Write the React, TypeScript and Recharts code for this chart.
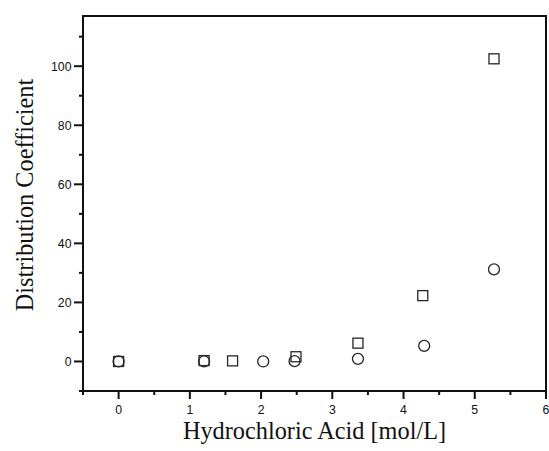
import React from "react";
import { ScatterChart, Scatter, XAxis, YAxis, ReferenceArea, Label } from "recharts";

const squareX = [0, 1.2, 1.6, 2.49, 3.36, 4.27, 5.27];
const squareY = [0, 0.3, 0.2, 1.6, 6.2, 22.3, 102.5];
const circleX = [0, 1.2, 2.03, 2.47, 3.36, 4.29, 5.27];
const circleY = [0, 0, 0, 0.1, 0.9, 5.3, 31.2];

const xMajorTicks = [0, 1, 2, 3, 4, 5, 6];
const xMinorTicks = [-0.5, 0.5, 1.5, 2.5, 3.5, 4.5, 5.5];
const yMajorTicks = [0, 20, 40, 60, 80, 100];
const yMinorTicks = [-10, 10, 30, 50, 70, 90, 110];

const xDomain = [-0.5, 6];
const yDomain = [-10, 117];

const squareData = squareX.map((x, i) => ({ x, y: squareY[i] }));
const circleData = circleX.map((x, i) => ({ x, y: circleY[i] }));

const xTicks = [...xMinorTicks, ...xMajorTicks].sort((a, b) => a - b);
const yTicks = [...yMinorTicks, ...yMajorTicks].sort((a, b) => a - b);

const SANS = "'Liberation Sans', Arial, sans-serif";
const SERIF = "'Liberation Serif', 'Times New Roman', serif";
const INK = "#111";

const XTick = (props: any) => {
  const { x, y, payload } = props;
  const major = xMajorTicks.includes(payload.value);
  return (
    <g>
      <line x1={x} x2={x} y1={y} y2={y + (major ? 8 : 4)} stroke={INK} strokeWidth={2} />
      {major && (
        <text x={x} y={y + 23.3} textAnchor="middle" fontFamily={SANS} fontSize={12.3} fill={INK}>
          {payload.value}
        </text>
      )}
    </g>
  );
};

const YTick = (props: any) => {
  const { x, y, payload } = props;
  const major = yMajorTicks.includes(payload.value);
  return (
    <g>
      <line x1={x - (major ? 9 : 4)} x2={x} y1={y} y2={y} stroke={INK} strokeWidth={2} />
      {major && (
        <text x={x - 11.5} y={y + 4.4} textAnchor="end" fontFamily={SANS} fontSize={12.3} fill={INK}>
          {payload.value}
        </text>
      )}
    </g>
  );
};

const SquareShape = (props: any) => {
  const { cx, cy } = props;
  return <rect x={cx - 5} y={cy - 5} width={10} height={10} fill="none" stroke="#262626" strokeWidth={1.3} />;
};

const CircleShape = (props: any) => {
  const { cx, cy } = props;
  return <circle cx={cx} cy={cy} r={5.5} fill="none" stroke="#262626" strokeWidth={1.3} />;
};

const YTitle = (props: any) => {
  const vb = props.viewBox;
  const x = vb.x + 33;
  const y = vb.y + vb.height / 2 - 8.5;
  return (
    <text x={x} y={y} transform={`rotate(-90 ${x} ${y})`} textAnchor="middle" fontFamily={SERIF} fontSize={24.3} fill={INK}>
      Distribution Coefficient
    </text>
  );
};

const XTitle = (props: any) => {
  const vb = props.viewBox;
  const x = vb.x + vb.width / 2;
  const y = vb.y + 48;
  return (
    <text x={x} y={y} textAnchor="middle" fontFamily={SERIF} fontSize={24.3} fill={INK}>
      Hydrochloric Acid [mol/L]
    </text>
  );
};

export default function App() {
  return (
    <div style={{ position: "absolute", left: 0, top: 0, width: 549, height: 451, background: "#fff" }}>
      <ScatterChart width={549} height={451} margin={{ top: 16, right: 3, bottom: 0, left: 0 }}>
        <XAxis
          type="number"
          dataKey="x"
          domain={xDomain}
          ticks={xTicks}
          interval={0}
          height={60}
          axisLine={false}
          tickLine={false}
          tickSize={0}
          tickMargin={0}
          tick={<XTick />}
          allowDataOverflow
        >
          <Label content={<XTitle />} />
        </XAxis>
        <YAxis
          type="number"
          dataKey="y"
          domain={yDomain}
          ticks={yTicks}
          interval={0}
          width={83}
          axisLine={false}
          tickLine={false}
          tickSize={0}
          tickMargin={0}
          tick={<YTick />}
          allowDataOverflow
        >
          <Label content={<YTitle />} />
        </YAxis>
        <ReferenceArea x1={xDomain[0]} x2={xDomain[1]} y1={yDomain[0]} y2={yDomain[1]} fill="none" stroke={INK} strokeWidth={2} ifOverflow="visible" />
        <Scatter data={squareData} shape={<SquareShape />} isAnimationActive={false} />
        <Scatter data={circleData} shape={<CircleShape />} isAnimationActive={false} />
      </ScatterChart>
    </div>
  );
}
